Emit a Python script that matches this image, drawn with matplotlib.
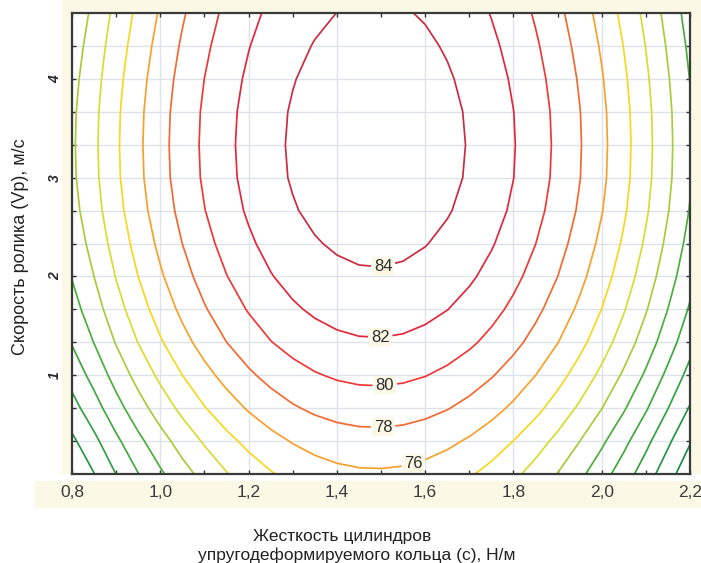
import matplotlib.pyplot as plt
from matplotlib.patches import Rectangle
from matplotlib.ticker import FixedLocator, MultipleLocator

plt.rcParams['font.family'] = ['Liberation Sans', 'DejaVu Sans']

# grid of the response surface
x_vals = [0.80, 0.85, 0.90, 0.95, 1.00, 1.05, 1.10, 1.15, 1.20, 1.25, 1.30, 1.35, 1.40, 1.45, 1.50,
          1.55, 1.60, 1.65, 1.70, 1.75, 1.80, 1.85, 1.90, 1.95, 2.00, 2.05, 2.10, 2.15, 2.20]
y_vals = [0.0, 0.333, 0.667, 1.0, 1.333, 1.667, 2.0, 2.333, 2.667, 3.0, 3.333, 3.667, 4.0, 4.333, 4.667]
z_vals = [
    [60.03, 61.95, 64.03, 65.95, 67.69, 69.26, 70.66, 71.89, 72.95, 73.84, 74.56, 75.11, 75.49, 75.70, 75.74,
     75.62, 75.32, 74.85, 74.21, 73.40, 72.42, 71.27, 69.95, 68.46, 66.80, 64.97, 62.97, 60.80, 58.60],
    [61.59, 63.51, 65.59, 67.51, 69.25, 70.82, 72.22, 73.45, 74.51, 75.40, 76.12, 76.67, 77.05, 77.26, 77.30,
     77.18, 76.88, 76.41, 75.77, 74.96, 73.98, 72.83, 71.51, 70.02, 68.36, 66.53, 64.53, 62.36, 60.16],
    [63.27, 65.19, 67.27, 69.19, 70.93, 72.50, 73.90, 75.13, 76.19, 77.08, 77.80, 78.35, 78.73, 78.94, 78.98,
     78.86, 78.56, 78.09, 77.45, 76.64, 75.66, 74.51, 73.19, 71.70, 70.04, 68.21, 66.21, 64.04, 61.84],
    [64.77, 66.69, 68.77, 70.69, 72.43, 74.00, 75.40, 76.63, 77.69, 78.58, 79.30, 79.85, 80.23, 80.44, 80.48,
     80.36, 80.06, 79.59, 78.95, 78.14, 77.16, 76.01, 74.69, 73.20, 71.54, 69.71, 67.71, 65.54, 63.34],
    [66.13, 68.05, 70.13, 72.05, 73.79, 75.36, 76.76, 77.99, 79.05, 79.94, 80.66, 81.21, 81.59, 81.80, 81.84,
     81.72, 81.42, 80.95, 80.31, 79.50, 78.52, 77.37, 76.05, 74.56, 72.90, 71.07, 69.07, 66.90, 64.70],
    [67.21, 69.13, 71.21, 73.13, 74.87, 76.44, 77.84, 79.07, 80.13, 81.02, 81.74, 82.29, 82.67, 82.88, 82.92,
     82.80, 82.50, 82.03, 81.39, 80.58, 79.60, 78.45, 77.13, 75.64, 73.98, 72.15, 70.15, 67.98, 65.78],
    [68.09, 70.01, 72.09, 74.01, 75.75, 77.32, 78.72, 79.95, 81.01, 81.90, 82.62, 83.17, 83.55, 83.76, 83.80,
     83.68, 83.38, 82.91, 82.27, 81.46, 80.48, 79.33, 78.01, 76.52, 74.86, 73.03, 71.03, 68.86, 66.66],
    [68.78, 70.70, 72.78, 74.70, 76.44, 78.01, 79.41, 80.64, 81.70, 82.59, 83.31, 83.86, 84.24, 84.45, 84.49,
     84.37, 84.07, 83.60, 82.96, 82.15, 81.17, 80.02, 78.70, 77.21, 75.55, 73.72, 71.72, 69.55, 67.35],
    [69.32, 71.24, 73.32, 75.24, 76.98, 78.55, 79.95, 81.18, 82.24, 83.13, 83.85, 84.40, 84.78, 84.99, 85.03,
     84.91, 84.61, 84.14, 83.50, 82.69, 81.71, 80.56, 79.24, 77.75, 76.09, 74.26, 72.26, 70.09, 67.89],
    [69.63, 71.55, 73.63, 75.55, 77.29, 78.86, 80.26, 81.49, 82.55, 83.44, 84.16, 84.71, 85.09, 85.30, 85.34,
     85.22, 84.92, 84.45, 83.81, 83.00, 82.02, 80.87, 79.55, 78.06, 76.40, 74.57, 72.57, 70.40, 68.20],
    [69.71, 71.63, 73.71, 75.63, 77.37, 78.94, 80.34, 81.57, 82.63, 83.52, 84.24, 84.79, 85.17, 85.38, 85.42,
     85.30, 85.00, 84.53, 83.89, 83.08, 82.10, 80.95, 79.63, 78.14, 76.48, 74.65, 72.65, 70.48, 68.28],
    [69.63, 71.55, 73.63, 75.55, 77.29, 78.86, 80.26, 81.49, 82.55, 83.44, 84.16, 84.71, 85.09, 85.30, 85.34,
     85.22, 84.92, 84.45, 83.81, 83.00, 82.02, 80.87, 79.55, 78.06, 76.40, 74.57, 72.57, 70.40, 68.20],
    [69.38, 71.30, 73.38, 75.30, 77.04, 78.61, 80.01, 81.24, 82.30, 83.19, 83.91, 84.46, 84.84, 85.05, 85.09,
     84.97, 84.67, 84.20, 83.56, 82.75, 81.77, 80.62, 79.30, 77.81, 76.15, 74.32, 72.32, 70.15, 67.95],
    [69.01, 70.93, 73.01, 74.93, 76.67, 78.24, 79.64, 80.87, 81.93, 82.82, 83.54, 84.09, 84.47, 84.68, 84.72,
     84.60, 84.30, 83.83, 83.19, 82.38, 81.40, 80.25, 78.93, 77.44, 75.78, 73.95, 71.95, 69.78, 67.58],
    [68.55, 70.47, 72.55, 74.47, 76.21, 77.78, 79.18, 80.41, 81.47, 82.36, 83.08, 83.63, 84.01, 84.22, 84.26,
     84.14, 83.84, 83.37, 82.73, 81.92, 80.94, 79.79, 78.47, 76.98, 75.32, 73.49, 71.49, 69.32, 67.12],
]

levels = [60, 62, 64, 66, 68, 70, 72, 74, 76, 78, 80, 82, 84]
line_colors = ['#1e8a48', '#279444', '#33a042', '#3fa83e', '#4cae3c', '#a8cc38', '#d8dc30',
               '#f6d820', '#f7a02c', '#f26a32', '#ec3a38', '#e2283c', '#c82c40']

# labels for 76, 78, 80, 82, 84
label_pos = [(1.573, 0.12), (1.505, 0.46), (1.509, 0.89), (1.498, 1.36), (1.505, 2.10)]

x_ticks = [0.8, 1.0, 1.2, 1.4, 1.6, 1.8, 2.0, 2.2]
x_ticklabels = ['0,8', '1,0', '1,2', '1,4', '1,6', '1,8', '2,0', '2,2']
y_ticks = [1, 2, 3, 4]
y_ticklabels = ['1', '2', '3', '4']

cream = '#fcf8e6'
W, H = 701, 563

fig = plt.figure(figsize=(W / 100, H / 100), dpi=100)


def band(x0, y0, x1, y1):
    # pixel box (top-left origin) -> figure patch
    fig.patches.append(Rectangle((x0 / W, 1 - y1 / H), (x1 - x0) / W, (y1 - y0) / H,
                                 transform=fig.transFigure, facecolor=cream,
                                 edgecolor='none', zorder=-5))


band(62, 0, 701, 474)
band(35, 481, 701, 508)

ax = fig.add_axes([72 / W, 1 - 474 / H, 618 / W, 461 / H])
ax.set_zorder(2)
ax.set_facecolor('white')

cs = ax.contour(x_vals, y_vals, z_vals, levels=levels, colors=line_colors, linewidths=1.25)
texts = ax.clabel(cs, manual=label_pos, inline=True, inline_spacing=3,
                  fmt='%d', fontsize=12, colors='#2e2e2e')
for t in texts:
    t.set_rotation(0)
    t.set_bbox(dict(boxstyle='square,pad=0.1', facecolor=cream, edgecolor='none'))

ax.set_xlim(0.8, 2.2)
ax.set_ylim(0, 14 / 3)
ax.xaxis.set_major_locator(FixedLocator(x_ticks))
ax.xaxis.set_minor_locator(MultipleLocator(0.1))
ax.set_xticklabels(x_ticklabels, fontsize=12.5, color='#3a3a3a')
ax.yaxis.set_major_locator(FixedLocator(y_ticks))
ax.yaxis.set_minor_locator(FixedLocator([k / 3 for k in range(1, 14)]))
ax.set_yticklabels(y_ticklabels, fontsize=10, style='italic', weight='bold', rotation=90,
                   va='center', color='#2a2a2a')

ax.tick_params(which='both', direction='in', top=True, right=True, length=3, width=1,
               color='#333333')
ax.tick_params(axis='x', which='major', pad=8)
ax.tick_params(axis='y', which='major', pad=7)

ax.set_axisbelow(True)
ax.grid(axis='x', which='major', color='#dde3e8', lw=1)
ax.grid(axis='y', which='both', color='#dde3e8', lw=1)
for s in ax.spines.values():
    s.set_color('#3a3a3a')
    s.set_linewidth(1.6)

fig.text(21 / W, 1 - 247 / H, 'Скорость ролика (Vp), м/с', rotation=90,
         ha='center', va='center', fontsize=13, color='#222222')
fig.text(342 / W, 1 - 537 / H, 'Жесткость цилиндров',
         ha='center', va='center', fontsize=12.5, color='#222222')
fig.text(357 / W, 1 - 555 / H, 'упругодеформируемого кольца (с), Н/м',
         ha='center', va='center', fontsize=12.5, color='#222222')

fig.savefig('out.png', dpi=100)
